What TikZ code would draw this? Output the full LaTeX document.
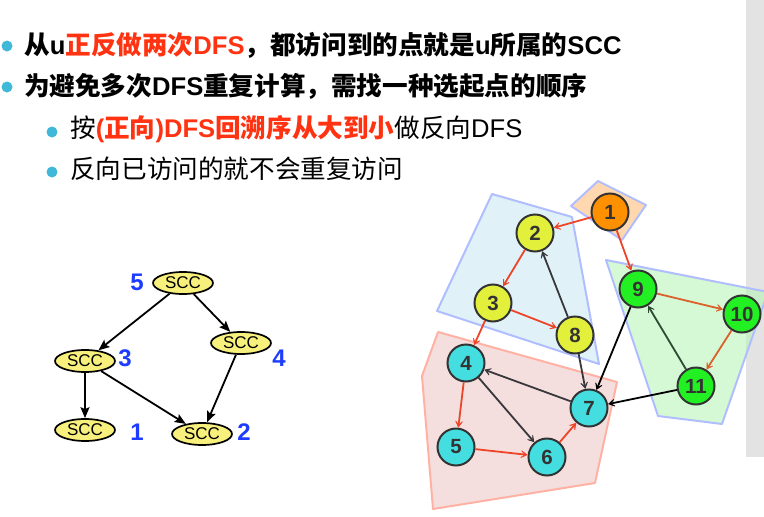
\documentclass[tikz,border=0pt]{standalone}
\usepackage{fontspec}
\setmainfont{Liberation Sans}
\newfontfamily\cjk{Noto Sans CJK SC}
\usetikzlibrary{arrows.meta,shapes.geometric}
\definecolor{hred}{RGB}{255,51,17}
\definecolor{bul}{RGB}{64,184,216}
\definecolor{numblue}{RGB}{30,60,255}
\definecolor{panel}{RGB}{227,227,227}
\definecolor{ellfill}{RGB}{248,240,124}
\definecolor{cOrange}{RGB}{255,144,0}
\definecolor{cYel}{RGB}{226,240,60}
\definecolor{cGreen}{RGB}{34,240,34}
\definecolor{cCyan}{RGB}{68,222,224}
\definecolor{nodeborder}{RGB}{51,51,51}
\definecolor{polyborder}{RGB}{176,190,255}
\definecolor{redborder}{RGB}{255,178,164}
\definecolor{fBlue}{RGB}{224,242,248}
\definecolor{fGreen}{RGB}{185,243,185}
\definecolor{fRed}{RGB}{245,222,222}
\definecolor{fOrange}{RGB}{255,216,176}
\definecolor{eRed}{RGB}{238,68,40}
\definecolor{eOrange}{RGB}{220,96,44}
\definecolor{eDark}{RGB}{55,55,60}
\definecolor{eDarkGreen}{RGB}{45,75,50}
\begin{document}
\begin{tikzpicture}[x=1pt,y=-1pt,
  bigtext/.style={anchor=west,inner sep=0pt,font=\fontsize{25.6}{29}\selectfont},
  bigbold/.style={bigtext,font=\fontsize{25.6}{29}\selectfont\bfseries},
  bulletdot/.style={circle,fill=bul,minimum size=11pt,inner sep=0pt},
  scc/.style={ellipse,draw=black,line width=1.7pt,fill=ellfill,minimum width=60pt,minimum height=22pt,inner sep=0pt,font=\fontsize{17}{19}\selectfont},
  lnum/.style={text=numblue,font=\fontsize{24}{26}\selectfont\bfseries,inner sep=0pt},
  larrow/.style={-{Stealth[length=11pt,width=9pt,inset=2pt]},line width=1.8pt,black},
  vtx/.style={circle,draw=nodeborder,line width=2pt,minimum size=37pt,inner sep=0pt,text=nodeborder,font=\fontsize{20.5}{22}\selectfont\bfseries},
  garrow/.style={-{Stealth[length=10pt,width=12pt,inset=7pt]},line width=1.8pt},
  poly/.style={draw=polyborder,line width=2pt,line join=round}
]
\useasboundingbox (0,0) rectangle (764,517);
\fill[panel] (746,0) rectangle (764,457);

% bullets and text
\node[bulletdot] (b1) at (7,46) {};
\node[bulletdot] (b2) at (7,87) {};
\node[bulletdot] (b3) at (52,132) {};
\node[bulletdot] (b4) at (52,172) {};
\node[bigbold] (t1) at (24,45)
  {{\cjk 从}u\textcolor{hred}{{\cjk 正反做两次}DFS}{\cjk ，都访问到的点就是}u{\cjk 所属的}SCC};
\node[bigbold] (t2) at (24,86)
  {{\cjk 为避免多次}DFS{\cjk 重复计算，需找一种选起点的顺序}};
\node[bigtext] (t3) at (70,129)
  {{\cjk 按}\textcolor{hred}{\bfseries ({\cjk 正向})DFS{\cjk 回溯序从大到小}}{\cjk 做反向}DFS};
\node[bigtext] (t4) at (70,169)
  {{\cjk 反向已访问的就不会重复访问}};

% left SCC diagram
\node[scc] (s5) at (183,283) {SCC};
\node[scc] (s4) at (241,343) {SCC};
\node[scc] (s3) at (85,361) {SCC};
\node[scc] (s1) at (85,430) {SCC};
\node[scc] (s2) at (202,434) {SCC};
\node[lnum] (n5) at (137,282) {5};
\node[lnum] (n3) at (125,358) {3};
\node[lnum] (n4) at (279,358) {4};
\node[lnum] (n1) at (137,432) {1};
\node[lnum] (n2) at (244,432) {2};
\draw[larrow] (s5) -- (s3);
\draw[larrow] (s5) -- (s4);
\draw[larrow] (s3) -- (s1);
\draw[larrow] (s3) -- (s2);
\draw[larrow] (s4) -- (s2);

% polygons
\filldraw[poly,fill=fBlue] (492,194) -- (572,217) -- (599,364) -- (437,311) -- cycle;
\filldraw[poly,fill=fOrange] (598,181) -- (646,205) -- (622,240) -- (571,206) -- cycle;
\filldraw[poly,draw=redborder,fill=fRed] (438,332) -- (617,382) -- (595,483) -- (433,509) -- (422,376) -- (426,365) -- cycle;
\filldraw[poly,fill=fGreen,fill opacity=0.6] (606,260) -- (768,292) -- (722,424) -- (658,416) -- cycle;

% vertices
\node[vtx,fill=cOrange] (v1) at (610,212) {1};
\node[vtx,fill=cYel] (v2) at (535,233) {2};
\node[vtx,fill=cYel] (v3) at (493,303) {3};
\node[vtx,fill=cYel] (v8) at (575,335) {8};
\node[vtx,fill=cGreen] (v9) at (638,289) {9};
\node[vtx,fill=cGreen] (v10) at (742,314) {10};
\node[vtx,fill=cGreen] (v11) at (696,386) {11};
\node[vtx,fill=cCyan] (v4) at (466,363) {4};
\node[vtx,fill=cCyan] (v7) at (589,408) {7};
\node[vtx,fill=cCyan] (v5) at (456,447) {5};
\node[vtx,fill=cCyan] (v6) at (547,457) {6};

% edges
\draw[garrow,eRed] (v1) -- (v2);
\draw[garrow,eRed] (v1) -- (v9);
\draw[garrow,eRed] (v2) -- (v3);
\draw[garrow,eRed] (v3) -- (v4);
\draw[garrow,eRed] (v3) -- (v8);
\draw[garrow,eDark] (v8) -- (v2);
\draw[garrow,eDark] (v8) -- (v7);
\draw[garrow,eOrange] (v9) -- (v10);
\draw[garrow,eOrange] (v10) -- (v11);
\draw[garrow,eDarkGreen] (v11) -- (v9);
\draw[garrow,black] (v9) -- (v7);
\draw[garrow,black] (v11) -- (v7);
\draw[garrow,eRed] (v4) -- (v5);
\draw[garrow,eDark] (v4) -- (v6);
\draw[garrow,eDark] (v7) -- (v4);
\draw[garrow,eRed] (v5) -- (v6);
\draw[garrow,eRed] (v6) -- (v7);
\end{tikzpicture}
\end{document}
